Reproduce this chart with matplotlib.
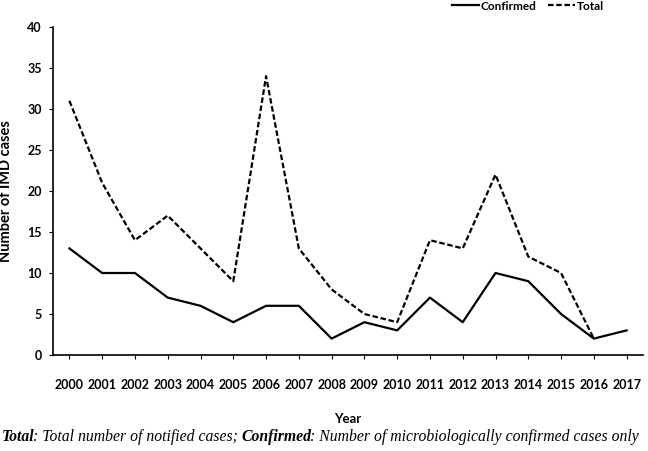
import matplotlib
matplotlib.use("Agg")
import matplotlib.pyplot as plt
from matplotlib.lines import Line2D

years = ["2000", "2001", "2002", "2003", "2004", "2005", "2006", "2007", "2008",
         "2009", "2010", "2011", "2012", "2013", "2014", "2015", "2016", "2017"]
confirmed = [13, 10, 10, 7, 6, 4, 6, 6, 2, 4, 3, 7, 4, 10, 9, 5, 2, 3]
total = [31, 21, 14, 17, 13, 9, 34, 13, 8, 5, 4, 14, 13, 22, 12, 10, 2]
yticks = [0, 5, 10, 15, 20, 25, 30, 35, 40]

plt.rcParams['font.family'] = ['Lato', 'DejaVu Sans']
fig = plt.figure(figsize=(6.48, 4.51), dpi=100)
ax = fig.add_axes([53/648, 1 - 355/451, 590/648, 328/451])

x = list(range(len(years)))
dash = (0, (2.5, 1.2))
ax.plot(x, confirmed, color='black', lw=1.6, label='Confirmed')
ax.plot(x[:len(total)], total, color='black', lw=1.6, linestyle=dash, label='Total')

ax.set_xlim(-0.5, len(years) - 0.5)
ax.set_ylim(0, 40)
ax.set_yticks(yticks)
ax.set_yticklabels([str(v) for v in yticks], fontsize=9, fontweight='bold')
ax.set_xticks(x)
ax.set_xticklabels(years, fontsize=9, fontweight='bold')
for s in ['top', 'right']:
    ax.spines[s].set_visible(False)
for s in ['left', 'bottom']:
    ax.spines[s].set_linewidth(1.2)
ax.tick_params(axis='both', direction='out', length=3, width=0.8)
ax.tick_params(axis='y', pad=5)
ax.tick_params(axis='x', pad=14)

ax.set_ylabel('Number of IMD cases', fontsize=10.5, fontweight='bold', labelpad=10)
ax.set_xlabel('Year', fontsize=9.5, fontweight='bold', labelpad=16)

handles = [Line2D([], [], color='black', lw=1.6),
           Line2D([], [], color='black', lw=1.6, linestyle=dash)]
fig.legend(handles, ['Confirmed', 'Total'], loc='center', bbox_to_anchor=(528/648, 1 - 6/451),
           ncol=2, frameon=False, prop={'weight': 'bold', 'size': 8.5},
           handlelength=2.3, handletextpad=0.1, columnspacing=1.0)

serif = ['Liberation Serif', 'DejaVu Serif']
pieces = [("Total", 'bold'), (": Total number of notified cases; ", 'normal'),
          ("Confirmed", 'bold'), (": Number of microbiologically confirmed cases only", 'normal')]
fs = 11.3
t = fig.text(2/648, 1 - 441/451, pieces[0][0], family=serif, style='italic',
             weight=pieces[0][1], fontsize=fs, va='baseline', ha='left')
prev_w = pieces[0][1]
for s, w in pieces[1:]:
    off = -1.2 if prev_w == 'bold' else 0.0
    t = ax.annotate(s, xy=(1, 0), xycoords=t, xytext=(off, 0), textcoords='offset points',
                    va='bottom', ha='left',
                    family=serif, style='italic', weight=w, fontsize=fs,
                    annotation_clip=False)
    prev_w = w

fig.savefig('out.png', dpi=100)
